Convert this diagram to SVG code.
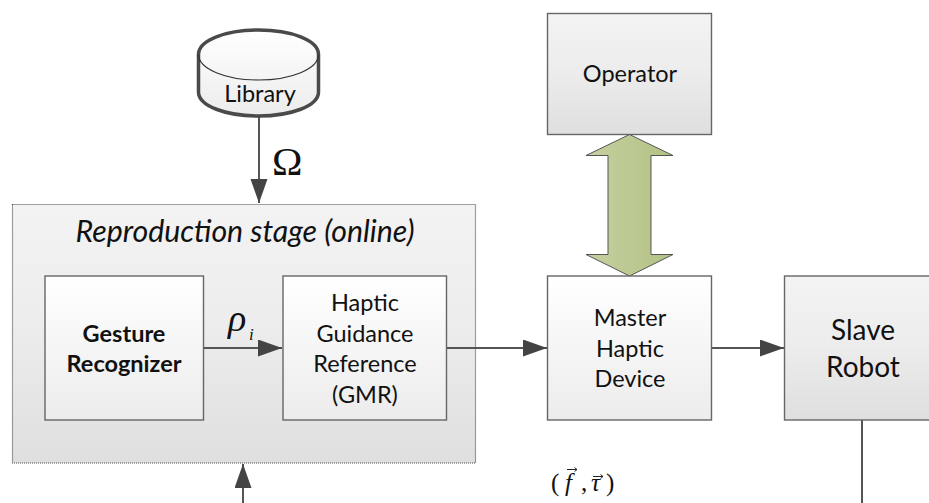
<svg xmlns="http://www.w3.org/2000/svg" width="929" height="503" viewBox="0 0 929 503">
<style>
.box{stroke:#666;stroke-width:1.4}
.t{font-family:"Lato","Liberation Sans",sans-serif;fill:#111;text-anchor:middle;font-size:23.500px}
.m{font-family:"Liberation Serif",serif;fill:#111}
.c{fill:none;stroke:#555;stroke-width:2}
.v{fill:none;stroke:#222;stroke-width:1}
</style>
<defs>
<linearGradient id="gd" x1="0" y1="0" x2="0" y2="1"><stop offset="0" stop-color="#f3f3f3"/><stop offset="0.45" stop-color="#ededed"/><stop offset="1" stop-color="#dfdfdf"/></linearGradient>
<linearGradient id="gl" x1="0" y1="0" x2="0" y2="1"><stop offset="0" stop-color="#ffffff"/><stop offset="1" stop-color="#ececec"/></linearGradient>
<linearGradient id="ga" x1="0" y1="0" x2="1" y2="0"><stop offset="0" stop-color="#c6d0a0"/><stop offset="1" stop-color="#b2c285"/></linearGradient>
<marker id="ah" markerUnits="userSpaceOnUse" markerWidth="26" markerHeight="18" refX="24" refY="8.500" orient="auto"><path d="M0 0L24 8.500L0 17Z" fill="#444"/></marker>
</defs>
<g id="reproduction-stage">
<rect x="12.500" y="204.500" width="463" height="258.500" fill="url(#gd)" stroke="#444" stroke-width="1.200" stroke-dasharray="1 1"/>
<text class="t" x="245" y="241.500" font-style="italic" style="font-size:30.300px">Reproduction stage (online)</text>
</g>
<g id="connectors">
<path class="c" d="M259 117V203" marker-end="url(#ah)"/>
<path class="c" d="M203.500 348H282" marker-end="url(#ah)"/>
<path class="c" d="M446 348H547" marker-end="url(#ah)"/>
<path class="c" d="M711 348H784" marker-end="url(#ah)"/>
<path class="c" d="M243 503V464" marker-end="url(#ah)"/>
<path class="c" d="M862 420V503"/>
</g>
<g id="library">
<path d="M198.500 54.500C198.500 40 226 30 258.500 30S318.500 40 318.500 54.500V92C318.500 106 291 116 258.500 116S198.500 106 198.500 92Z" fill="url(#gl)" stroke="#4a4a4a" stroke-width="3.500"/>
<path d="M198.500 54.500C198.500 69 226 80 258.500 80S318.500 69 318.500 54.500" fill="none" stroke="#333" stroke-width="1.200"/>
<text class="t" x="260" y="102">Library</text>
</g>
<text class="m" x="272" y="175" font-size="41">Ω</text>
<g id="gesture-recognizer">
<rect class="box" x="45" y="276" width="158.500" height="144" fill="url(#gl)"/>
<text class="t" x="124" y="342" font-weight="700">Gesture</text>
<text class="t" x="124" y="372" font-weight="700">Recognizer</text>
</g>
<text class="m" x="228" y="331" font-size="38" font-style="italic">ρ</text>
<text class="m" x="249" y="340" font-size="17" font-style="italic">i</text>
<g id="haptic-guidance">
<rect class="box" x="283" y="276" width="163.500" height="144" fill="url(#gl)"/>
<text class="t" x="365" y="311">Haptic</text>
<text class="t" x="365" y="342">Guidance</text>
<text class="t" x="365" y="372">Reference</text>
<text class="t" x="365" y="403">(GMR)</text>
</g>
<g id="operator">
<rect class="box" x="547.500" y="13.500" width="164" height="121" fill="url(#gd)"/>
<text class="t" x="630" y="81.500">Operator</text>
</g>
<g id="double-arrow">
<path d="M629.500 134.500L673 155.500H651V254.500H673L629.500 276L586 254.500H608V155.500H586Z" fill="url(#ga)" stroke="#555" stroke-width="1"/>
</g>
<g id="master-haptic-device">
<rect class="box" x="547.500" y="276" width="164" height="144" fill="url(#gl)"/>
<text class="t" x="630" y="326">Master</text>
<text class="t" x="630" y="356.500">Haptic</text>
<text class="t" x="630" y="386.500">Device</text>
</g>
<g id="slave-robot">
<rect class="box" x="784.500" y="276" width="164" height="144" fill="url(#gd)"/>
<text class="t" x="863" y="340" style="font-size:28px">Slave</text>
<text class="t" x="863" y="376.500" style="font-size:28px">Robot</text>
</g>
<g id="force-label" class="m" font-size="25">
<text x="551" y="491">(</text>
<text x="565" y="491" font-style="italic">f</text>
<text x="581" y="491">,</text>
<text x="591" y="491" font-style="italic">τ</text>
<text x="606" y="491">)</text>
<path class="v" d="M567 469.500H577M574.500 467.500L577 469.500L574.500 471.500M593 476.500H603M600.500 474.500L603 476.500L600.500 478.500"/>
</g>
</svg>
